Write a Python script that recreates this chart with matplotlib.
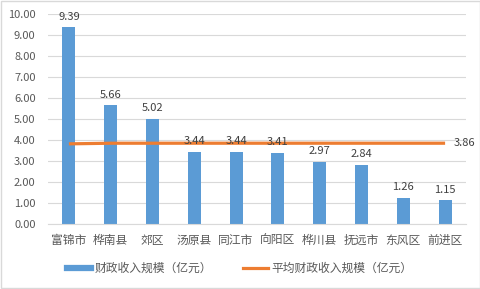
import matplotlib
matplotlib.use("Agg")
import matplotlib.pyplot as plt
from matplotlib.lines import Line2D
from matplotlib.patches import Rectangle

plt.rcParams['font.family'] = ['Noto Sans CJK SC', 'DejaVu Sans']

# 数据
districts = ['富锦市', '桦南县', '郊区', '汤原县', '同江市', '向阳区', '桦川县', '抚远市', '东风区', '前进区']
revenue = [9.39, 5.66, 5.02, 3.44, 3.44, 3.41, 2.97, 2.84, 1.26, 1.15]
avg_line = [3.83, 3.86, 3.86, 3.86, 3.86, 3.86, 3.86, 3.86, 3.86, 3.86]
avg_label = '3.86'
y_ticks = [0, 1, 2, 3, 4, 5, 6, 7, 8, 9, 10]

bar_color = '#5B9BD5'
line_color = '#ED7D31'
text_color = '#595959'

fig = plt.figure(figsize=(4.81, 2.89), dpi=100)
ax = fig.add_axes([0.0998, 0.224, 0.869, 0.7265])

x = list(range(len(districts)))
bars = ax.bar(x, revenue, width=0.31, color=bar_color, zorder=2)
ax.plot(x, avg_line, color=line_color, lw=2.3, zorder=3, solid_capstyle='butt')

# 数据标签
for xi, v in zip(x, revenue):
    ax.annotate(f'{v:.2f}', (xi, v), xytext=(0, 4), textcoords='offset points',
                ha='center', va='bottom', fontsize=8, color='#404040', zorder=4)
ax.annotate(avg_label, (x[-1], avg_line[-1]), xytext=(6, 0), textcoords='offset points',
            ha='left', va='center', fontsize=8, color='#404040', zorder=4)

ax.set_xlim(-0.5, 9.5)
ax.set_ylim(0, 10)
ax.set_yticks(y_ticks)
ax.set_yticklabels([f'{t:.2f}' for t in y_ticks], fontsize=8, color=text_color)
ax.set_xticks(x)
ax.set_xticklabels(districts, fontsize=8.5, color=text_color)
ax.tick_params(axis='both', length=0)
ax.tick_params(axis='x', pad=7)
ax.tick_params(axis='y', pad=9)
ax.grid(axis='y', color='#D9D9D9', lw=0.8, zorder=0)
for s in ['top', 'right', 'left']:
    ax.spines[s].set_visible(False)
ax.spines['bottom'].set_color('#D9D9D9')
ax.spines['bottom'].set_linewidth(0.8)

handles = [Line2D([0], [0], color=bar_color, lw=4.5),
           Line2D([0], [0], color=line_color, lw=2.3)]
labels = ['财政收入规模（亿元）', '平均财政收入规模（亿元）']
fig.legend(handles, labels, loc='center', bbox_to_anchor=(0.498, 0.072), ncol=2,
           frameon=False, fontsize=8.5, labelcolor=text_color,
           handlelength=2.1, handletextpad=0.3, columnspacing=2.6)

# 外框
fig.patches.append(Rectangle((0.002, 0.003), 0.995, 0.993, transform=fig.transFigure,
                             fill=False, edgecolor='#D9D9D9', lw=1))

fig.savefig('out.png', dpi=100)
